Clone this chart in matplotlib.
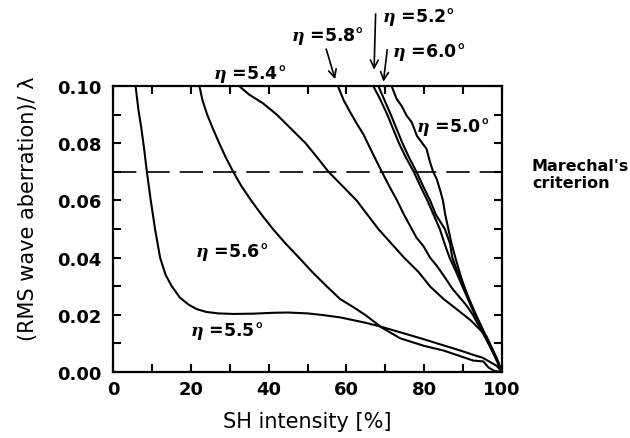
import matplotlib
matplotlib.use("Agg")
import matplotlib.pyplot as plt
from matplotlib.ticker import MultipleLocator, FormatStrFormatter

plt.rcParams['font.family'] = ['DejaVu Sans']
plt.rcParams['mathtext.fontset'] = 'custom'
plt.rcParams['mathtext.it'] = 'DejaVu Serif:italic:bold'
plt.rcParams['mathtext.rm'] = 'DejaVu Sans'
plt.rcParams['mathtext.bf'] = 'DejaVu Sans:bold'

##### data #####
# eta = 5.5 deg (plateau curve)
x55 = [5.8, 6.5, 7.3, 8.0, 8.7, 9.7, 10.8, 12.1, 13.5, 15.1, 17.2, 19.5, 21.5, 24.0, 27.0,
       31.0, 36.0, 41.0, 45.0, 50.0, 54.0, 58.4, 65.0, 69.0, 73.8, 79.8, 85.0, 90.0, 92.6,
       95.0, 98.6, 100.0]
y55 = [0.100, 0.092, 0.085, 0.078, 0.070, 0.060, 0.050, 0.040, 0.034, 0.030, 0.026, 0.0235,
       0.022, 0.021, 0.0205, 0.0203, 0.0204, 0.0207, 0.0208, 0.0205, 0.0199, 0.0191, 0.0172,
       0.0158, 0.0139, 0.0115, 0.0093, 0.0072, 0.0060, 0.0050, 0.0022, 0.0]

# eta = 5.6 deg
x56 = [22.2, 23.0, 24.2, 25.7, 27.3, 29.0, 30.9, 33.0, 35.5, 38.2, 41.1, 44.3, 47.8, 51.2,
       54.9, 58.4, 62.0, 65.1, 69.0, 73.8, 79.8, 85.0, 90.0, 92.6, 95.2, 96.5, 98.0, 100.0]
y56 = [0.100, 0.095, 0.090, 0.085, 0.080, 0.075, 0.070, 0.065, 0.060, 0.055, 0.050, 0.045,
       0.040, 0.035, 0.030, 0.0255, 0.0225, 0.0197, 0.0156, 0.0118, 0.0092, 0.0075, 0.0052,
       0.0040, 0.0037, 0.0016, 0.0004, 0.0]

# eta = 5.4 deg
x54 = [32.4, 35.0, 38.5, 42.1, 45.8, 49.5, 52.5, 55.4, 59.0, 62.6, 65.4, 68.2, 71.5, 74.8,
       78.5, 81.6, 85.0, 88.3, 92.0, 96.0, 98.6, 100.0]
y54 = [0.100, 0.097, 0.094, 0.090, 0.085, 0.080, 0.075, 0.070, 0.065, 0.060, 0.055, 0.050,
       0.045, 0.040, 0.035, 0.0298, 0.0255, 0.0220, 0.0180, 0.0125, 0.0050, 0.0]

# eta = 5.8 deg
x58 = [57.8, 59.3, 60.9, 62.6, 64.4, 66.9, 69.1, 71.0, 73.0, 74.8, 76.4, 78.0, 79.8, 81.5,
       83.3, 85.0, 87.3, 89.5, 91.0, 92.5, 94.5, 96.5, 98.5, 100.0]
y58 = [0.100, 0.095, 0.091, 0.087, 0.083, 0.076, 0.070, 0.065, 0.060, 0.055, 0.051, 0.047,
       0.044, 0.040, 0.037, 0.0337, 0.029, 0.0255, 0.023, 0.020, 0.015, 0.010, 0.005, 0.0]

# eta = 5.2 deg
x52 = [66.9, 68.8, 70.5, 72.0, 73.5, 75.3, 77.3, 79.0, 80.8, 82.4, 84.0, 85.2, 86.5, 88.2,
       89.8, 91.4, 93.0, 94.8, 96.5, 98.3, 100.0]
y52 = [0.100, 0.095, 0.090, 0.085, 0.080, 0.075, 0.070, 0.065, 0.060, 0.055, 0.050, 0.045,
       0.040, 0.035, 0.030, 0.025, 0.020, 0.015, 0.010, 0.005, 0.0]

# eta = 6.0 deg
x60 = [68.2, 69.8, 71.4, 72.9, 74.4, 76.1, 78.0, 79.7, 81.5, 83.0, 85.3, 86.6, 87.2, 88.6,
       90.2, 91.7, 93.3, 95.0, 96.7, 98.4, 100.0]
y60 = y52

# eta = 5.0 deg
x50 = [71.6, 72.9, 74.2, 75.5, 76.8, 78.1, 80.6, 81.5, 82.3, 83.2, 84.2, 84.8, 85.4, 86.2,
       87.0, 88.0, 89.5, 91.0, 92.2, 93.5, 95.0, 96.6, 98.4, 100.0]
y50 = [0.100, 0.0955, 0.093, 0.0896, 0.0873, 0.0826, 0.078, 0.0733, 0.070, 0.0675, 0.063,
       0.060, 0.055, 0.050, 0.045, 0.040, 0.033, 0.027, 0.023, 0.019, 0.015, 0.010, 0.005, 0.0]

curves = [(x55, y55), (x56, y56), (x54, y54), (x58, y58), (x52, y52), (x60, y60), (x50, y50)]

marechal = 0.07

##### figure #####
fig = plt.figure(figsize=(6.3, 4.39), dpi=100)
ax = fig.add_axes([0.1794, 0.1503, 0.6175, 0.6515])

for xs, ys in curves:
    ax.plot(xs, ys, color='black', lw=1.5, solid_joinstyle='round')

ax.plot([0, 100], [marechal, marechal], color='black', lw=1.2, dashes=(14, 6))

ax.set_xlim(0, 100)
ax.set_ylim(0, 0.10)
ax.xaxis.set_major_locator(MultipleLocator(20))
ax.xaxis.set_minor_locator(MultipleLocator(10))
ax.yaxis.set_major_locator(MultipleLocator(0.02))
ax.yaxis.set_minor_locator(MultipleLocator(0.01))
ax.yaxis.set_major_formatter(FormatStrFormatter('%.2f'))
ax.tick_params(which='both', direction='in', top=True, right=True, length=6, width=1.5)
ax.tick_params(axis='x', pad=6)
ax.tick_params(axis='y', pad=8)
for lab in ax.get_xticklabels() + ax.get_yticklabels():
    lab.set_fontsize(13)
    lab.set_fontweight('bold')
for sp in ax.spines.values():
    sp.set_linewidth(1.6)

fig.text(0.488, 0.039, 'SH intensity [%]', fontsize=15, ha='center', va='center')
fig.text(0.044, 0.524, '(RMS wave aberration)/ λ', fontsize=15, rotation=90,
         ha='center', va='center')

fig.text(0.8444, 0.601, "Marechal's\ncriterion", fontsize=11.5, fontweight='bold',
         ha='left', va='center', linespacing=1.15)

##### eta labels #####
labels = [('5.4', 35.0, 0.1045), ('5.6', 30.6, 0.0423), ('5.5', 29.3, 0.0147),
          ('5.8', 55.0, 0.1178), ('5.2', 78.4, 0.1245), ('6.0', 81.0, 0.1122),
          ('5.0', 87.4, 0.0860)]
for val, lx, ly in labels:
    ax.text(lx, ly, r'$\eta$ =' + val + '°', fontsize=12.5, fontweight='bold',
            ha='center', va='center', clip_on=False)

arrows = [((54.8, 0.1129), (57.1, 0.1024)),
          ((67.5, 0.1252), (67.1, 0.1057)),
          ((70.5, 0.1127), (69.5, 0.1015))]
for tail, tip in arrows:
    ax.annotate('', xy=tip, xytext=tail, annotation_clip=False,
                arrowprops=dict(arrowstyle='->', color='black', lw=1.2,
                                mutation_scale=14, shrinkA=0, shrinkB=0))

fig.savefig('out.png', dpi=100)
